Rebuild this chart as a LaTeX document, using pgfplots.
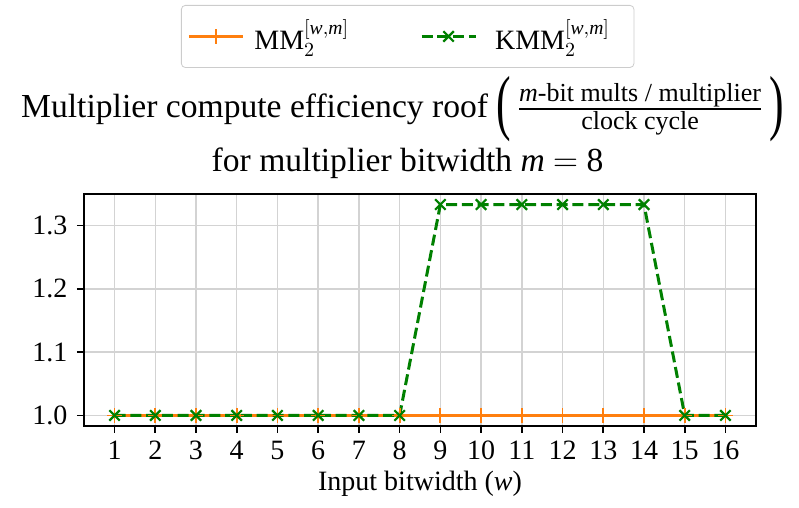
\documentclass[border=0pt]{standalone}
\usepackage{amsmath}
\usepackage{graphicx}
\usepackage{fontspec}
\setmainfont{Liberation Serif}
\usepackage{pgfplots}
\pgfplotsset{compat=1.18}
\definecolor{mplorange}{HTML}{FF7F0E}
\definecolor{mplgreen}{HTML}{008000}
\definecolor{gridgray}{HTML}{D3D3D3}
\newcommand{\tallparen}[1]{\vcenter{\hbox{\scalebox{1.3}[2.15]{#1}}}}
\begin{document}
\fontsize{14}{16.8}\selectfont
\begin{tikzpicture}
\begin{axis}[
  at={(42pt,41pt)}, anchor=south west,
  scale only axis, width=336pt, height=116pt,
  xmin=0.25, xmax=16.75, ymin=0.98333, ymax=1.35,
  xtick={1,...,16},
  ytick={1.0,1.1,1.2,1.3},
  yticklabels={1.0,1.1,1.2,1.3},
  /pgf/number format/assume math mode=true,
  tick label style={font=\fontsize{14}{16.8}\selectfont},
  label style={font=\fontsize{14}{16.8}\selectfont},
  xticklabel style={yshift=1pt},
  xlabel={Input bitwidth (\textit{w})},
  xlabel style={yshift=4pt},
  grid=major,
  major grid style={gridgray, line width=0.7pt},
  axis line style={black, line width=0.8pt},
  tick style={black, line width=0.8pt},
  tick align=outside, major tick length=3.5pt,
  xtick pos=bottom, ytick pos=left,
  legend columns=2,
  legend style={at={(0.1443,1.8147)}, anchor=north west, draw=black!20, rounded corners=2pt,
    font=\fontsize{14}{16.8}\selectfont, inner xsep=3pt, inner ysep=5pt,
    /tikz/every even column/.append style={column sep=33.5pt}},
  legend cell align=left,
  legend image code/.code={\draw[mark repeat=2,mark phase=2] plot coordinates {(0pt,0pt) (13.5pt,0pt) (27pt,0pt)};},
]
\addplot[mplorange, line width=1.5pt, mark=+, mark size=3.6pt, mark options={solid, line width=0.9pt}] coordinates {
(1,1.0) (2,1.0) (3,1.0) (4,1.0) (5,1.0) (6,1.0) (7,1.0) (8,1.0)
(9,1.0) (10,1.0) (11,1.0) (12,1.0) (13,1.0) (14,1.0) (15,1.0) (16,1.0)};
\addlegendentry{\hspace*{3pt}MM$_{2}^{[\mathit{w,m}]}$}
\addplot[mplgreen, line width=1.5pt, dash pattern=on 5.5pt off 2.4pt, mark=x, mark size=3.7pt, mark options={solid, line width=1.1pt}] coordinates {
(1,1.0) (2,1.0) (3,1.0) (4,1.0) (5,1.0) (6,1.0) (7,1.0) (8,1.0)
(9,1.33333) (10,1.33333) (11,1.33333) (12,1.33333) (13,1.33333) (14,1.33333) (15,1.0) (16,1.0)};
\addlegendentry{\hspace*{7pt}KMM$_{2}^{[\mathit{w,m}]}$\hspace*{7pt}}
\end{axis}
\node[anchor=center, inner sep=0pt] at (201.25pt,199.5pt) {\fontsize{16.8}{20}\selectfont Multiplier compute efficiency roof $\tallparen{(}\,\frac{\text{\fontsize{13}{15}\selectfont\textit{m}-bit mults / multiplier}}{\text{\fontsize{13}{15}\selectfont clock cycle}}\,\tallparen{)}$};
\node[anchor=center, inner sep=0pt] at (203.75pt,172.5pt) {\fontsize{16.8}{20}\selectfont for multiplier bitwidth \textit{m} $=$ 8};
\pgfresetboundingbox
\path (0pt,0pt) rectangle (399.5pt,254pt);
\end{tikzpicture}
\end{document}
